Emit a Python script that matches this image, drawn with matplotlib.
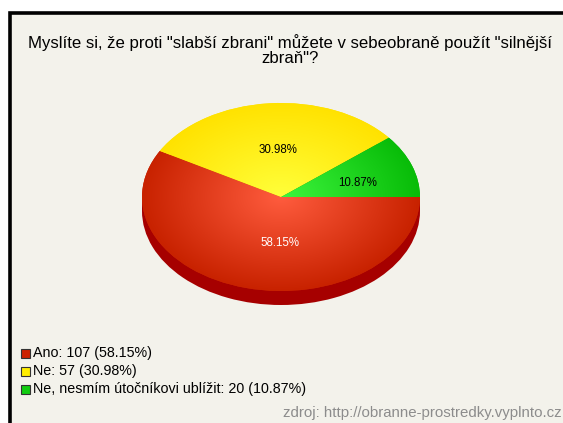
import numpy as np
import matplotlib
matplotlib.use("Agg")
import matplotlib.pyplot as plt
from matplotlib.colors import LinearSegmentedColormap
from matplotlib.patches import Rectangle

plt.rcParams['font.family'] = ['Liberation Sans', 'DejaVu Sans']

title = 'Myslíte si, že proti "slabší zbrani" můžete v sebeobraně použít "silnější\nzbraň"?'
labels = ['Ano', 'Ne', 'Ne, nesmím útočníkovi ublížit']
counts = [107, 57, 20]
percents = [58.15, 30.98, 10.87]
source = 'zdroj: http://obranne-prostredky.vyplnto.cz'

# (center, edge) colours of each slice's radial gradient
grad_colors = [('#ff5c3e', '#c82200'), ('#ffff3a', '#ffe200'), ('#3df53d', '#08bc08')]
legend_colors = ['#cc2200', '#ffee00', '#11cc11']
side_color = '#a60000'

W, H = 563, 423
fig = plt.figure(figsize=(W / 100, H / 100), dpi=100)
fig.patch.set_facecolor('white')

# frame
fig.patches.append(Rectangle((9.5 / W, -0.1), 1.2, 1 - 13.5 / H + 0.1, transform=fig.transFigure,
                             facecolor='#f3f2eb', edgecolor='black', linewidth=2.6, zorder=-5))

fig.text(290 / W, 1 - 34 / H, title, ha='center', va='top', fontsize=12.1, linespacing=0.97)

# pie axes: ellipse center (281,197), rx=139, ry=94 px
cx, cy, rx, ry = 281, 197, 139, 94
xl, yl_lo, yl_hi = 1.05, -1.3, 1.05
ax = fig.add_axes([(cx - xl * rx) / W, (H - cy + yl_lo * ry) / H,
                   2 * xl * rx / W, (yl_hi - yl_lo) * ry / H])
ax.set_facecolor('none')
ax.set_zorder(2)
depth = 14 / ry

# side (3D thickness)
ax.pie([1], colors=[side_color], center=(0, -depth), radius=1,
       wedgeprops=dict(linewidth=0))
ax.add_patch(Rectangle((-1, -depth), 2, depth, facecolor=side_color, linewidth=0))

wedges, texts, autotexts = ax.pie(percents, startangle=0, counterclock=False,
                                  colors=[c[1] for c in grad_colors],
                                  autopct='%.2f%%', pctdistance=0.5,
                                  wedgeprops=dict(linewidth=0),
                                  textprops=dict(fontsize=8.3))

xx, yy = np.meshgrid(np.linspace(-1, 1, 300), np.linspace(-1, 1, 300))
rr = np.clip(np.sqrt(xx ** 2 + yy ** 2), 0, 1)
for w, (c0, c1) in zip(wedges, grad_colors):
    cmap = LinearSegmentedColormap.from_list('g', [c0, c1])
    im = ax.imshow(rr, extent=(-1, 1, -1, 1), cmap=cmap, vmin=0, vmax=1,
                   origin='lower', zorder=w.get_zorder() + 0.1, interpolation='bilinear')
    im.set_clip_path(w)

label_pos = [(-0.01, -0.49), (-0.02, 0.5), (0.55, 0.15)]
label_cols = ['white', 'black', 'black']
for t, p, c in zip(autotexts, label_pos, label_cols):
    t.set_position(p)
    t.set_color(c)
    t.set_zorder(5)
    t.set_ha('center')
    t.set_va('center')

ax.set_aspect('auto')
ax.set_xlim(-xl, xl)
ax.set_ylim(yl_lo, yl_hi)
ax.axis('off')

# legend
for i, (lab, n, p, col) in enumerate(zip(labels, counts, percents, legend_colors)):
    y = 353 + 18 * i
    fig.patches.append(Rectangle((21 / W, 1 - (y + 4.5) / H), 9 / W, 9 / H, transform=fig.transFigure,
                                 facecolor=col, edgecolor='#333333', linewidth=0.8))
    fig.text(33 / W, 1 - y / H, f'{lab}: {n} ({p:.2f}%)', ha='left', va='center', fontsize=10.3)

fig.text(562 / W, 1 - 413 / H, source, ha='right', va='center', fontsize=10.8, color='#8c8c8c')

fig.savefig('out.png', dpi=100)
